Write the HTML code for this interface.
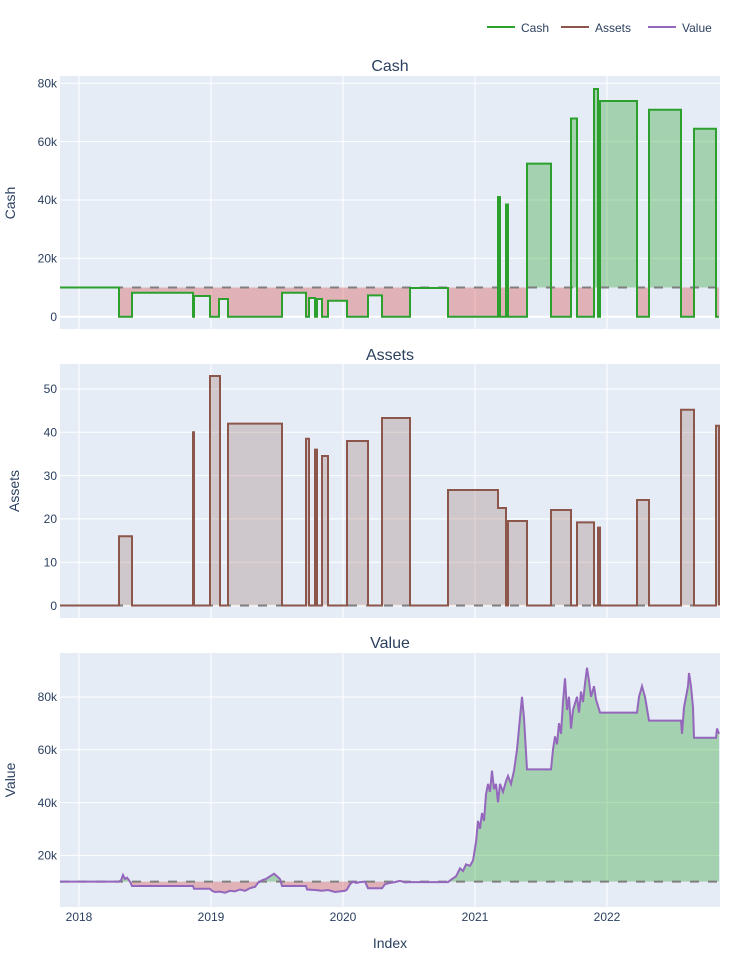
<!DOCTYPE html>
<html><head><meta charset="utf-8"><style>
body{margin:0;background:#fff;font-family:"Liberation Sans",sans-serif}
svg text{font-family:"Liberation Sans",sans-serif;fill:#2a3f5f}
</style></head><body>
<svg width="750" height="960" viewBox="0 0 750 960" xmlns="http://www.w3.org/2000/svg">
<defs>
<clipPath id="cA"><rect x="60" y="76" width="660" height="211.5"/></clipPath>
<clipPath id="cB"><rect x="60" y="287.5" width="660" height="42"/></clipPath>
<clipPath id="vA"><rect x="60" y="653" width="660" height="228.6"/></clipPath>
<clipPath id="vB"><rect x="60" y="881.6" width="660" height="26"/></clipPath>
</defs>
<!-- legend -->
<line x1="487" y1="27" x2="515" y2="27" stroke="#2ca02c" stroke-width="2"/><text x="521" y="32" font-size="12">Cash</text>
<line x1="561" y1="27" x2="589" y2="27" stroke="#8c564b" stroke-width="2"/><text x="595" y="32" font-size="12">Assets</text>
<line x1="648" y1="27" x2="676" y2="27" stroke="#9467bd" stroke-width="2"/><text x="682" y="32" font-size="12">Value</text>
<!-- titles -->
<text x="390" y="71" font-size="16" text-anchor="middle">Cash</text>
<text x="390" y="360" font-size="16" text-anchor="middle">Assets</text>
<text x="390" y="648" font-size="16" text-anchor="middle">Value</text>
<!-- backgrounds -->
<rect x="60" y="76" width="660" height="253" fill="#e5ecf6"/>
<rect x="60" y="364" width="660" height="254" fill="#e5ecf6"/>
<rect x="60" y="653" width="660" height="254" fill="#e5ecf6"/>
<g stroke="#fff" stroke-width="1">
<line x1="60" x2="720" y1="83.3" y2="83.3"/><line x1="60" x2="720" y1="141.6" y2="141.6"/><line x1="60" x2="720" y1="200" y2="200"/><line x1="60" x2="720" y1="258.3" y2="258.3"/><line x1="60" x2="720" y1="316.7" y2="316.7" stroke-width="2"/>
<line x1="60" x2="720" y1="389" y2="389"/><line x1="60" x2="720" y1="432.3" y2="432.3"/><line x1="60" x2="720" y1="475.6" y2="475.6"/><line x1="60" x2="720" y1="518.9" y2="518.9"/><line x1="60" x2="720" y1="562.2" y2="562.2"/><line x1="60" x2="720" y1="605.5" y2="605.5" stroke-width="2"/>
<line x1="60" x2="720" y1="697" y2="697"/><line x1="60" x2="720" y1="749.8" y2="749.8"/><line x1="60" x2="720" y1="802.6" y2="802.6"/><line x1="60" x2="720" y1="855.4" y2="855.4"/>
</g>
<g stroke="#fff" stroke-width="1">
<path d="M79 76V329M211 76V329M343 76V329M475 76V329M607 76V329"/>
<path d="M79 364V618M211 364V618M343 364V618M475 364V618M607 364V618"/>
<path d="M79 653V907M211 653V907M343 653V907M475 653V907M607 653V907"/>
</g>
<!-- y tick labels -->
<g font-size="12" text-anchor="end">
<text x="57" y="87.5">80k</text><text x="57" y="146">60k</text><text x="57" y="204">40k</text><text x="57" y="262.5">20k</text><text x="57" y="321">0</text>
<text x="57" y="393">50</text><text x="57" y="436.5">40</text><text x="57" y="480">30</text><text x="57" y="523">20</text><text x="57" y="566.5">10</text><text x="57" y="610">0</text>
<text x="57" y="701">80k</text><text x="57" y="754">60k</text><text x="57" y="807">40k</text><text x="57" y="859.5">20k</text>
</g>
<g font-size="12" text-anchor="middle">
<text x="79" y="921">2018</text><text x="211" y="921">2019</text><text x="343" y="921">2020</text><text x="475" y="921">2021</text><text x="607" y="921">2022</text>
</g>
<text x="390" y="948" font-size="14" text-anchor="middle">Index</text>
<text transform="translate(15,203) rotate(-90)" font-size="14" text-anchor="middle">Cash</text>
<text transform="translate(19,491) rotate(-90)" font-size="14" text-anchor="middle">Assets</text>
<text transform="translate(15,780) rotate(-90)" font-size="14" text-anchor="middle">Value</text>

<!-- Cash -->
<g id="cashfill">
<polygon clip-path="url(#cA)" fill="rgba(44,160,44,0.35)" points="60,287.5 119,287.5 119,316.7 132,316.7 132,292.7 193,292.7 193,316.7 194,316.7 194,296 210,296 210,316.7 219,316.7 219,299 228,299 228,316.7 282,316.7 282,292.7 306,292.7 306,316.7 309,316.7 309,298 315,298 315,316.7 317,316.7 317,299 322,299 322,316.7 328,316.7 328,300.7 347,300.7 347,316.7 368,316.7 368,295.4 382,295.4 382,316.7 410,316.7 410,288 448,288 448,316.7 498,316.7 498,197 500,197 500,316.7 506,316.7 506,204.5 508,204.5 508,316.7 527,316.7 527,163.6 551,163.6 551,316.7 571,316.7 571,118.5 577,118.5 577,316.7 594,316.7 594,89 598,89 598,316.7 600,316.7 600,101 637,101 637,316.7 649,316.7 649,109.7 681,109.7 681,316.7 694,316.7 694,128.7 716,128.7 716,316.7 719,316.7 719,287.5"/>
</g>
<polygon clip-path="url(#cB)" fill="rgba(214,39,40,0.3)" points="60,287.5 119,287.5 119,316.7 132,316.7 132,292.7 193,292.7 193,316.7 194,316.7 194,296 210,296 210,316.7 219,316.7 219,299 228,299 228,316.7 282,316.7 282,292.7 306,292.7 306,316.7 309,316.7 309,298 315,298 315,316.7 317,316.7 317,299 322,299 322,316.7 328,316.7 328,300.7 347,300.7 347,316.7 368,316.7 368,295.4 382,295.4 382,316.7 410,316.7 410,288 448,288 448,316.7 498,316.7 498,197 500,197 500,316.7 506,316.7 506,204.5 508,204.5 508,316.7 527,316.7 527,163.6 551,163.6 551,316.7 571,316.7 571,118.5 577,118.5 577,316.7 594,316.7 594,89 598,89 598,316.7 600,316.7 600,101 637,101 637,316.7 649,316.7 649,109.7 681,109.7 681,316.7 694,316.7 694,128.7 716,128.7 716,316.7 719,316.7 719,287.5"/>
<line x1="60" x2="720" y1="287.5" y2="287.5" stroke="#7f7f7f" stroke-width="2" stroke-dasharray="9,9"/>
<polyline fill="none" stroke="#2ca02c" stroke-width="2" points="60,287.5 119,287.5 119,316.7 132,316.7 132,292.7 193,292.7 193,316.7 194,316.7 194,296 210,296 210,316.7 219,316.7 219,299 228,299 228,316.7 282,316.7 282,292.7 306,292.7 306,316.7 309,316.7 309,298 315,298 315,316.7 317,316.7 317,299 322,299 322,316.7 328,316.7 328,300.7 347,300.7 347,316.7 368,316.7 368,295.4 382,295.4 382,316.7 410,316.7 410,288 448,288 448,316.7 498,316.7 498,197 500,197 500,316.7 506,316.7 506,204.5 508,204.5 508,316.7 527,316.7 527,163.6 551,163.6 551,316.7 571,316.7 571,118.5 577,118.5 577,316.7 594,316.7 594,89 598,89 598,316.7 600,316.7 600,101 637,101 637,316.7 649,316.7 649,109.7 681,109.7 681,316.7 694,316.7 694,128.7 716,128.7 716,316.7 719,316.7"/>

<!-- Assets -->
<polygon fill="rgba(140,86,75,0.25)" points="60,605.5 119,605.5 119,536.2 132,536.2 132,605.5 193,605.5 193,432.3 194,432.3 194,605.5 210,605.5 210,376 220,376 220,605.5 228,605.5 228,423.6 282,423.6 282,605.5 306,605.5 306,438.8 309,438.8 309,605.5 315,605.5 315,449.6 317,449.6 317,605.5 322,605.5 322,456 328,456 328,605.5 347,605.5 347,441 368,441 368,605.5 382,605.5 382,418 410,418 410,605.5 448,605.5 448,490 498,490 498,508 506,508 506,605.5 508,605.5 508,521 527,521 527,605.5 551,605.5 551,510 571,510 571,605.5 577,605.5 577,522.4 594,522.4 594,605.5 598,605.5 598,527.6 600,527.6 600,605.5 637,605.5 637,500 649,500 649,605.5 681,605.5 681,409.8 694,409.8 694,605.5 716,605.5 716,425.8 719,425.8 719,605.5"/>
<line x1="60" x2="720" y1="605.5" y2="605.5" stroke="#7f7f7f" stroke-width="2" stroke-dasharray="9,9"/>
<polyline fill="none" stroke="#8c564b" stroke-width="2" points="60,605.5 119,605.5 119,536.2 132,536.2 132,605.5 193,605.5 193,432.3 194,432.3 194,605.5 210,605.5 210,376 220,376 220,605.5 228,605.5 228,423.6 282,423.6 282,605.5 306,605.5 306,438.8 309,438.8 309,605.5 315,605.5 315,449.6 317,449.6 317,605.5 322,605.5 322,456 328,456 328,605.5 347,605.5 347,441 368,441 368,605.5 382,605.5 382,418 410,418 410,605.5 448,605.5 448,490 498,490 498,508 506,508 506,605.5 508,605.5 508,521 527,521 527,605.5 551,605.5 551,510 571,510 571,605.5 577,605.5 577,522.4 594,522.4 594,605.5 598,605.5 598,527.6 600,527.6 600,605.5 637,605.5 637,500 649,500 649,605.5 681,605.5 681,409.8 694,409.8 694,605.5 716,605.5 716,425.8 719,425.8 719,605.5"/>

<!-- Value -->
<polygon clip-path="url(#vA)" fill="rgba(44,160,44,0.35)" points="60,881.6 119,881.6 121,880.3 123,875 125,879 127,877.6 130,881.6 132,886 193,886 194,888.7 210,888.7 212,890.8 215,892 220,891.6 225,892.7 230,890.8 235,891.4 240,889.5 245,890.8 250,888.2 255,886.9 258,882.9 262,880.3 266,879 270,876.3 274,873.7 277,876.3 280,879 282,886 306,886 307,889.5 315,890 322,890.8 328,890 335,892 340,891.4 345,890.8 347,889.5 350,884.2 353,881.6 356,882.9 360,882.1 365,881.6 368,888.2 382,888.2 385,884.2 390,882.9 395,882.1 400,880.8 405,882.4 410,882.1 448,882.1 452,879 456,876.3 460,868.4 463,871 466,864.4 470,865.8 473,860.5 476,842 478,820.9 480,828.8 482,813 484,820.9 486,794.5 488,783.9 490,791.8 492,770.7 494,789.2 496,783.9 498,802.4 500,783.9 503,791.8 506,781.3 508,776 511,783.9 514,770.7 517,749.6 520,717.9 522,696.8 524,717.9 527,769.4 551,769.4 553,749.6 555,736.4 557,744.3 559,723.2 561,733.8 563,702.1 565,678.3 567,710 569,696.8 571,728.5 573,710 577,696.8 579,712.6 581,691.5 583,702.1 585,683.6 587,667.8 589,681 591,696.8 594,686.2 596,699.4 600,712.6 637,712.6 639,696.8 642,686.2 645,696.8 649,720.6 681,720.6 682,733.8 684,707.4 686,696.8 688,686.2 689,673 691,686.2 693,707.4 694,737.7 716,737.7 717,728.5 719,733.8 719,881.6"/>
<polygon clip-path="url(#vB)" fill="rgba(214,39,40,0.3)" points="60,881.6 119,881.6 121,880.3 123,875 125,879 127,877.6 130,881.6 132,886 193,886 194,888.7 210,888.7 212,890.8 215,892 220,891.6 225,892.7 230,890.8 235,891.4 240,889.5 245,890.8 250,888.2 255,886.9 258,882.9 262,880.3 266,879 270,876.3 274,873.7 277,876.3 280,879 282,886 306,886 307,889.5 315,890 322,890.8 328,890 335,892 340,891.4 345,890.8 347,889.5 350,884.2 353,881.6 356,882.9 360,882.1 365,881.6 368,888.2 382,888.2 385,884.2 390,882.9 395,882.1 400,880.8 405,882.4 410,882.1 448,882.1 452,879 719,881.6"/>
<line x1="60" x2="720" y1="881.6" y2="881.6" stroke="#7f7f7f" stroke-width="2" stroke-dasharray="9,9"/>
<polyline fill="none" stroke="#9467bd" stroke-width="2" points="60,881.6 119,881.6 121,880.3 123,875 125,879 127,877.6 130,881.6 132,886 193,886 194,888.7 210,888.7 212,890.8 215,892 220,891.6 225,892.7 230,890.8 235,891.4 240,889.5 245,890.8 250,888.2 255,886.9 258,882.9 262,880.3 266,879 270,876.3 274,873.7 277,876.3 280,879 282,886 306,886 307,889.5 315,890 322,890.8 328,890 335,892 340,891.4 345,890.8 347,889.5 350,884.2 353,881.6 356,882.9 360,882.1 365,881.6 368,888.2 382,888.2 385,884.2 390,882.9 395,882.1 400,880.8 405,882.4 410,882.1 448,882.1 452,879 456,876.3 460,868.4 463,871 466,864.4 470,865.8 473,860.5 476,842 478,820.9 480,828.8 482,813 484,820.9 486,794.5 488,783.9 490,791.8 492,770.7 494,789.2 496,783.9 498,802.4 500,783.9 503,791.8 506,781.3 508,776 511,783.9 514,770.7 517,749.6 520,717.9 522,696.8 524,717.9 527,769.4 551,769.4 553,749.6 555,736.4 557,744.3 559,723.2 561,733.8 563,702.1 565,678.3 567,710 569,696.8 571,728.5 573,710 577,696.8 579,712.6 581,691.5 583,702.1 585,683.6 587,667.8 589,681 591,696.8 594,686.2 596,699.4 600,712.6 637,712.6 639,696.8 642,686.2 645,696.8 649,720.6 681,720.6 682,733.8 684,707.4 686,696.8 688,686.2 689,673 691,686.2 693,707.4 694,737.7 716,737.7 717,728.5 719,733.8"/>
</svg>
</body></html>
